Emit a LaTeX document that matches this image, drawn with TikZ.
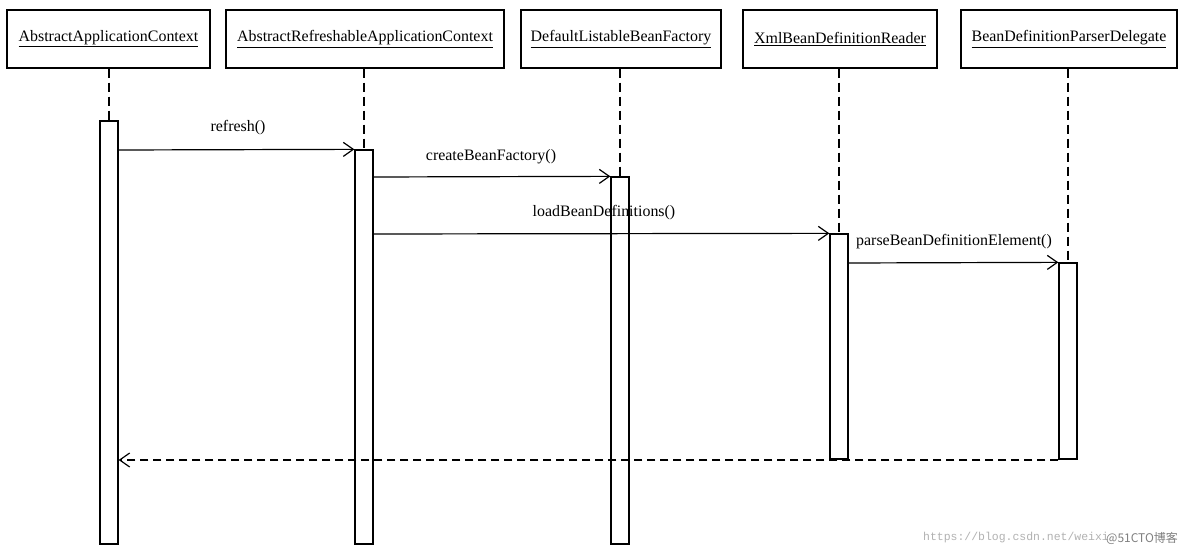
\documentclass[tikz,border=0pt]{standalone}
\usepackage{fontspec}
\setmainfont{Liberation Serif}
\newfontfamily\wmmono{Liberation Mono}
\newfontfamily\wmcjk{Noto Sans CJK SC}
\usetikzlibrary{arrows.meta}
\begin{document}
\begin{tikzpicture}[x=1bp,y=-1bp,
  hdr/.style={draw,line width=1.3bp,minimum width=#1,minimum height=58bp,inner sep=0pt,font=\fontsize{16}{18}\selectfont},
  bar/.style={draw,line width=1.3bp,minimum width=18bp,minimum height=#1,inner sep=0pt},
  life/.style={line width=1.2bp,dash pattern=on 9bp off 5bp},
  msg/.style={line width=1.2bp,-{Straight Barb[length=10bp,width=14bp,line width=1.2bp]}},
  ret/.style={msg,dash pattern=on 8bp off 5bp},
  lbl/.style={font=\fontsize{16}{18}\selectfont,inner sep=0pt}]
\useasboundingbox (0,0) rectangle (1184,551);
\fill[white] (0,0) rectangle (1184,551);
% headers
\node[hdr=203bp] (h1) at (108.5,39) {\underline{AbstractApplicationContext}};
\node[hdr=278bp] (h2) at (365,39) {\underline{AbstractRefreshableApplicationContext}};
\node[hdr=200bp] (h3) at (621,39) {\underline{DefaultListableBeanFactory}};
\node[hdr=194bp] (h4) at (840,39) {\underline{XmlBeanDefinitionReader}};
\node[hdr=216bp] (h5) at (1069,39) {\underline{BeanDefinitionParserDelegate}};
% activation bars
\node[bar=423bp] (b1) at (109,332.5) {};
\node[bar=394bp] (b2) at (364,347) {};
\node[bar=367bp] (b3) at (620,360.5) {};
\node[bar=225bp] (b4) at (839,346.5) {};
\node[bar=196bp] (b5) at (1068,361) {};
% lifelines
\draw[life] (h1.south -| b1.north) -- (b1.north);
\draw[life] (h2.south -| b2.north) -- (b2.north);
\draw[life] (h3.south -| b3.north) -- (b3.north);
\draw[life] (h4.south -| b4.north) -- (b4.north);
\draw[life] (h5.south -| b5.north) -- (b5.north);
% messages
\coordinate (m1) at (0,150);
\coordinate (m2) at (0,177);
\coordinate (m3) at (0,234);
\coordinate (m4) at (0,263);
\coordinate (m5) at (0,460);
\draw[msg] (b1.east |- m1) -- (b2.north west);
\draw[msg] (b2.east |- m2) -- (b3.north west);
\draw[msg] (b2.east |- m3) -- (b4.north west);
\draw[msg] (b4.east |- m4) -- (b5.north west);
\draw[ret] (b5.west |- m5) -- (b1.east |- m5);
% labels
\node[lbl] (l1) at (238,128) {refresh()};
\node[lbl] (l2) at (491,157) {createBeanFactory()};
\node[lbl] (l3) at (604,213) {loadBeanDefinitions()};
\node[lbl] (l4) at (954,242) {parseBeanDefinitionElement()};
% watermark
\node[anchor=west,inner sep=0pt,text=black!30,font=\wmmono\fontsize{11.5}{12}\selectfont] (w1) at (923,538) {https://blog.csdn.net/weixi};
\node[anchor=east,inner sep=0pt,text=black!50,font=\wmcjk\fontsize{12}{14}\selectfont] (w2) at (1178,538) {@51CTO博客};
\end{tikzpicture}
\end{document}
